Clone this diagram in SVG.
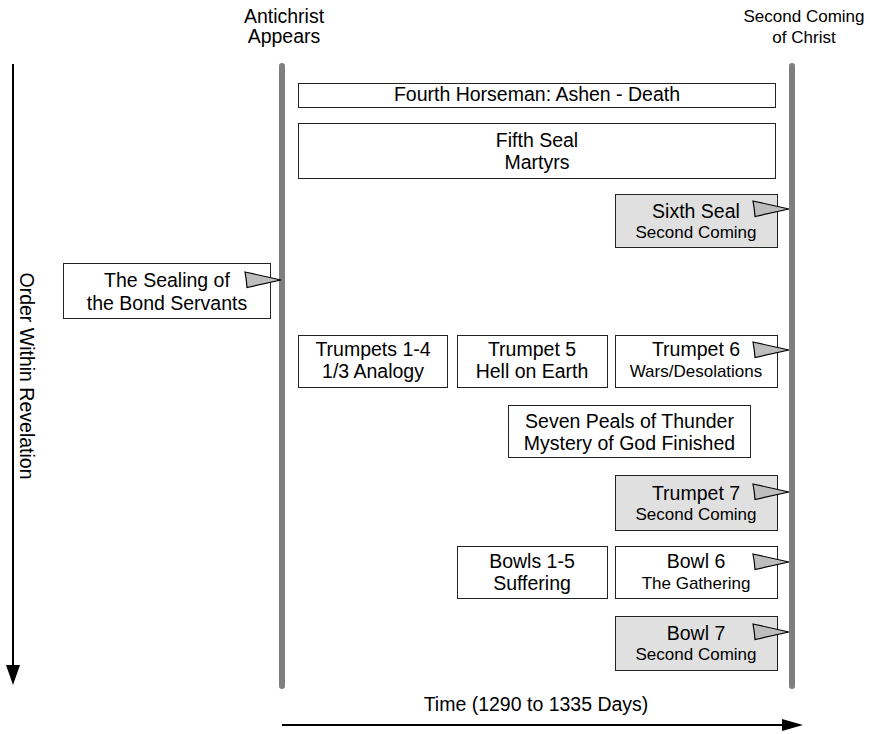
<svg xmlns="http://www.w3.org/2000/svg" xmlns:xlink="http://www.w3.org/1999/xlink" width="870" height="734" viewBox="0 0 870 734">
<style>
text{font-family:"Liberation Sans",Arial,sans-serif;fill:#000;text-anchor:middle}
.m{font-size:19.5px}
.s{font-size:17px}
.h2{font-size:17px}
.box{fill:#fff;stroke:#222;stroke-width:1}
.gbox{fill:#e0e0e0;stroke:#222;stroke-width:1}
.tl{stroke:#7f7f7f;stroke-width:6;stroke-linecap:round;fill:none}
.tri{fill:#bdbdbd;stroke:#000;stroke-width:1.2;stroke-linejoin:miter}
.ax{stroke:#000;stroke-width:2;fill:none}
</style>
<defs>
<path id="tri" class="tri" d="M-36,-8 L0,0 L-34,7.5 Q-34.5,0 -36,-8 Z"/>
</defs>

<g id="timelines">
<line class="tl" x1="282" y1="66" x2="282" y2="686"/>
<line class="tl" x1="792" y1="66" x2="792" y2="686"/>
</g>

<g id="label-antichrist">
<text class="m" x="284" y="23">Antichrist</text>
<text class="m" x="284" y="43">Appears</text>
</g>
<g id="label-second-coming">
<text class="h2" x="804" y="22">Second Coming</text>
<text class="h2" x="804" y="43">of Christ</text>
</g>

<g id="fourth-horseman">
<rect class="box" x="298.5" y="83.5" width="477" height="24"/>
<text class="m" x="537" y="101">Fourth Horseman: Ashen - Death</text>
</g>
<g id="fifth-seal">
<rect class="box" x="298.5" y="123.5" width="477" height="55"/>
<text class="m" x="537" y="147">Fifth Seal</text>
<text class="m" x="537" y="169">Martyrs</text>
</g>
<g id="sixth-seal">
<rect class="gbox" x="615.5" y="194.5" width="162" height="53"/>
<text class="m" x="696" y="218">Sixth Seal</text>
<text class="s" x="696" y="238">Second Coming</text>
</g>
<g id="sealing">
<rect class="box" x="63.5" y="263.5" width="207" height="55"/>
<text class="m" x="167" y="287">The Sealing of</text>
<text class="m" x="167" y="310">the Bond Servants</text>
</g>
<g id="trumpets-1-4">
<rect class="box" x="298.5" y="335.5" width="149" height="52"/>
<text class="m" x="373" y="356">Trumpets 1-4</text>
<text class="m" x="373" y="378">1/3 Analogy</text>
</g>
<g id="trumpet-5">
<rect class="box" x="457.5" y="335.5" width="150" height="52"/>
<text class="m" x="532" y="356">Trumpet 5</text>
<text class="m" x="532" y="378">Hell on Earth</text>
</g>
<g id="trumpet-6">
<rect class="box" x="615.5" y="335.5" width="162" height="52"/>
<text class="m" x="696" y="356">Trumpet 6</text>
<text class="s" x="696" y="377">Wars/Desolations</text>
</g>
<g id="seven-peals">
<rect class="box" x="508.5" y="405.5" width="242" height="52"/>
<text class="m" x="629.5" y="428">Seven Peals of Thunder</text>
<text class="m" x="629.5" y="450">Mystery of God Finished</text>
</g>
<g id="trumpet-7">
<rect class="gbox" x="615.5" y="475.5" width="162" height="55"/>
<text class="m" x="696" y="500">Trumpet 7</text>
<text class="s" x="696" y="520">Second Coming</text>
</g>
<g id="bowls-1-5">
<rect class="box" x="457.5" y="546.5" width="150" height="52"/>
<text class="m" x="532" y="568">Bowls 1-5</text>
<text class="m" x="532" y="590">Suffering</text>
</g>
<g id="bowl-6">
<rect class="box" x="615.5" y="546.5" width="162" height="52"/>
<text class="m" x="696" y="568">Bowl 6</text>
<text class="s" x="696" y="589">The Gathering</text>
</g>
<g id="bowl-7">
<rect class="gbox" x="615.5" y="616.5" width="162" height="54"/>
<text class="m" x="696" y="640">Bowl 7</text>
<text class="s" x="696" y="660">Second Coming</text>
</g>

<g id="connectors">
<use xlink:href="#tri" transform="translate(789,209)"/>
<use xlink:href="#tri" transform="translate(281,280)"/>
<use xlink:href="#tri" transform="translate(789,350)"/>
<use xlink:href="#tri" transform="translate(789,492)"/>
<use xlink:href="#tri" transform="translate(789,562)"/>
<use xlink:href="#tri" transform="translate(789,632)"/>
<line class="ax" x1="13" y1="64" x2="13" y2="667"/>
<path d="M6,665 L20,665 L13,685 Z" fill="#000"/>
<line class="ax" x1="282" y1="725" x2="784" y2="725"/>
<path d="M782,719 L803,725 L782,731 Z" fill="#000"/>
</g>

<g id="axis-labels">
<text class="m" transform="translate(20,376) rotate(90)">Order Within Revelation</text>
<text class="m" x="536" y="711">Time (1290 to 1335 Days)</text>
</g>
</svg>
